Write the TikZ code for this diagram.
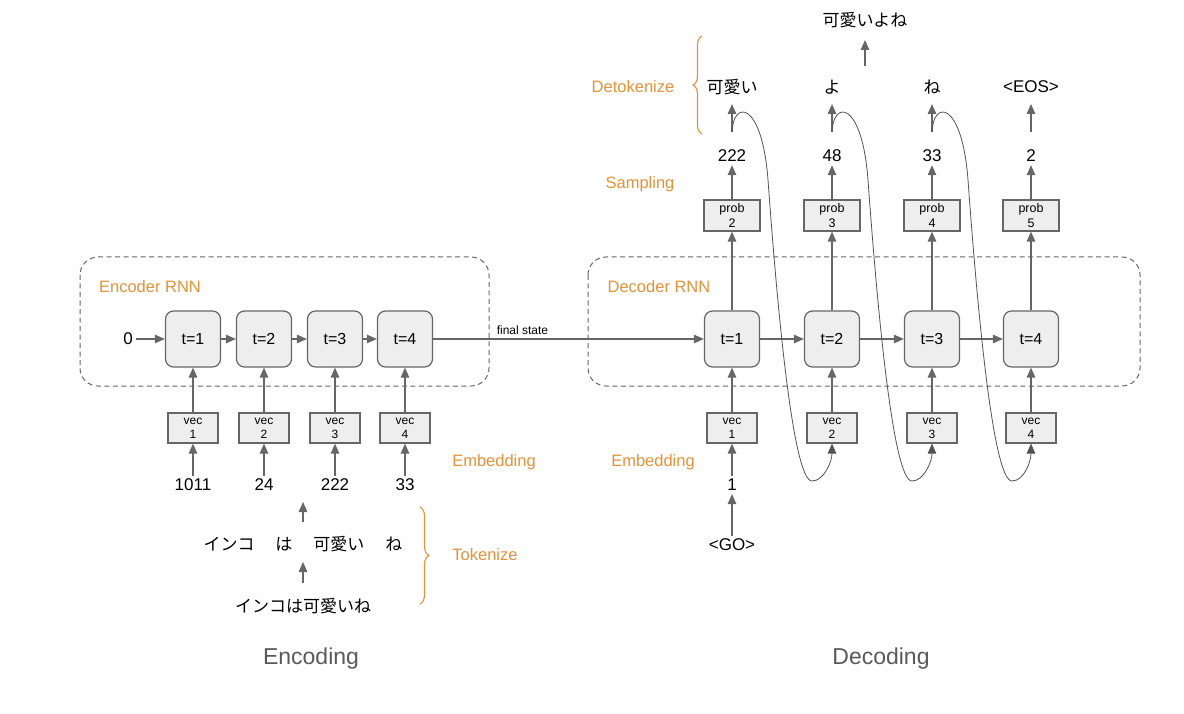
\documentclass[tikz,border=0pt]{standalone}
\usepackage{fontspec}
\setmainfont{Liberation Sans}
\newfontfamily\jp{Noto Sans CJK JP}
\usetikzlibrary{arrows.meta,decorations.pathreplacing,calc}
\definecolor{orng}{HTML}{E69138}
\definecolor{ln}{HTML}{666666}
\definecolor{boxfill}{HTML}{EEEEEE}
\definecolor{capt}{HTML}{595959}
\begin{document}
\begin{tikzpicture}[x=1pt,y=-1pt,
  tbox/.style={draw=ln, fill=boxfill, rounded corners=8pt, minimum width=55pt, minimum height=56pt, line width=1.2pt, font=\fontsize{16}{16}\selectfont, inner sep=0pt},
  vbox/.style={draw=ln, fill=boxfill, minimum width=50pt, minimum height=30pt, line width=1.2pt, font=\fontsize{12}{14}\selectfont, align=center, inner sep=0pt},
  pbox/.style={vbox, minimum width=56pt, minimum height=31pt, font=\fontsize{12.5}{15}\selectfont},
  num/.style={font=\fontsize{17}{17}\selectfont, inner sep=3pt},
  jtxt/.style={font=\jp\fontsize{17}{17}\selectfont, inner sep=3pt},
  lbl/.style={text=orng, font=\fontsize{16.5}{16.5}\selectfont},
  capt/.style={text=capt, font=\fontsize{23}{23}\selectfont},
  arr/.style={draw=ln, line width=1.3pt, -{Triangle[length=10pt,width=8.5pt]}},
  curve/.style={draw=ln!80!black, line width=0.8pt, -{Triangle[length=10pt,width=8.5pt]}},
  grp/.style={draw=ln, dashed, dash pattern=on 5pt off 3.5pt, line width=1pt, rounded corners=18pt},
  brc/.style={draw=orng, line width=1.1pt, decorate, decoration={brace, amplitude=9pt}}
]
\useasboundingbox (0,0) rectangle (1184,714);

% ---------- Encoder ----------
\draw[grp] (80,257) rectangle (489,386);
\node[lbl] (enclbl) at (150,287) {Encoder RNN};
\node[num] (zero) at (128,339) {0};
\foreach \i/\x in {1/193,2/264,3/335,4/405}{
  \node[tbox] (e\i) at (\x,339) {t=\i};
  \node[vbox] (ev\i) at (\x,428) {vec\\\i};
}
\node[num] (en1) at (193,485) {1011};
\node[num] (en2) at (264,485) {24};
\node[num] (en3) at (335,485) {222};
\node[num] (en4) at (405,485) {33};
\draw[arr] (zero) -- (e1);
\draw[arr] (e1) -- (e2);
\draw[arr] (e2) -- (e3);
\draw[arr] (e3) -- (e4);
\foreach \i in {1,2,3,4}{
  \draw[arr] (en\i) -- (ev\i);
  \draw[arr] (ev\i) -- (e\i);
}
\node[jtxt] (tok) at (303,544) {インコ\hspace{21pt}は\hspace{21pt}可愛い\hspace{21pt}ね};
\node[jtxt] (sent) at (303,606) {インコは可愛いね};
\coordinate (ta1) at (303,522);
\coordinate (ta2) at (303,502);
\draw[arr] (ta1) -- (ta2);
\coordinate (tb1) at (303,583);
\coordinate (tb2) at (303,562);
\draw[arr] (tb1) -- (tb2);
\draw[brc] (420,507) -- (420,604);
\node[lbl] (toklbl) at (485,555) {Tokenize};
\node[lbl] (emblbl1) at (494,462) {Embedding};
\node[capt] (enccap) at (311,659) {Encoding};

% ---------- Decoder ----------
\draw[grp] (588,257) rectangle (1140,386);
\node[lbl] (declbl) at (659,287) {Decoder RNN};
\foreach \i/\x in {1/732,2/832,3/932,4/1031}{
  \node[tbox] (d\i) at (\x,339) {t=\i};
  \node[vbox] (dv\i) at (\x,428) {vec\\\i};
}
\foreach \p/\x in {2/732,3/832,4/932,5/1031}{
  \node[pbox] (pb\p) at (\x,215.5) {prob\\\p};
}
\draw[arr] (e4) -- node[above, pos=0.33, font=\fontsize{12}{12}\selectfont, inner sep=4pt] (fs) {final state} (d1);
\draw[arr] (d1) -- (d2);
\draw[arr] (d2) -- (d3);
\draw[arr] (d3) -- (d4);
\foreach \i/\p in {1/2,2/3,3/4,4/5}{
  \draw[arr] (dv\i) -- (d\i);
  \draw[arr] (d\i) -- (pb\p);
}
\node[num] (one) at (732,485) {1};
\node[num] (go) at (732,545) {<GO>};
\draw[arr] (go) -- (one);
\draw[arr] (one) -- (dv1);
\node[lbl] (emblbl2) at (653,462) {Embedding};

\node[num] (s1) at (732,156) {222};
\node[num] (s2) at (832,156) {48};
\node[num] (s3) at (932,156) {33};
\node[num] (s4) at (1031,156) {2};
\foreach \i/\p in {1/2,2/3,3/4,4/5}{
  \draw[arr] (pb\p) -- (s\i);
}
\node[lbl] (samplbl) at (640,184) {Sampling};

\node[jtxt] (k1) at (732,87) {可愛い};
\node[jtxt] (k2) at (832,87) {よ};
\node[jtxt] (k3) at (932,87) {ね};
\node[num] (k4) at (1031,87) {<EOS>};
\foreach \i/\x in {1/732,2/832,3/932,4/1031}{
  \coordinate (ka\i) at (\x,132);
  \coordinate (kb\i) at (\x,104);
  \draw[arr] (ka\i) -- (kb\i);
}
\node[jtxt] (out) at (865,20) {可愛いよね};
\coordinate (oa1) at (865,66);
\coordinate (oa2) at (865,40);
\draw[arr] (oa1) -- (oa2);
\draw[brc] (702,134) -- (702,36);
\node[lbl] (detlbl) at (633,87) {Detokenize};

% feedback curves
\foreach \i/\j/\x in {1/2/732,2/3/832,3/4/932}{
  \draw[curve] (ka\i) .. controls (\x+1,100) and (\x+30,100) .. (\x+36,180)
     .. controls (\x+44,290) and (\x+60,481) .. (\x+80,481)
     .. controls (\x+92,481) and ($(dv\j.south)+(0,18)$) .. (dv\j.south);
}
\node[capt] (deccap) at (881,659) {Decoding};
\end{tikzpicture}
\end{document}
